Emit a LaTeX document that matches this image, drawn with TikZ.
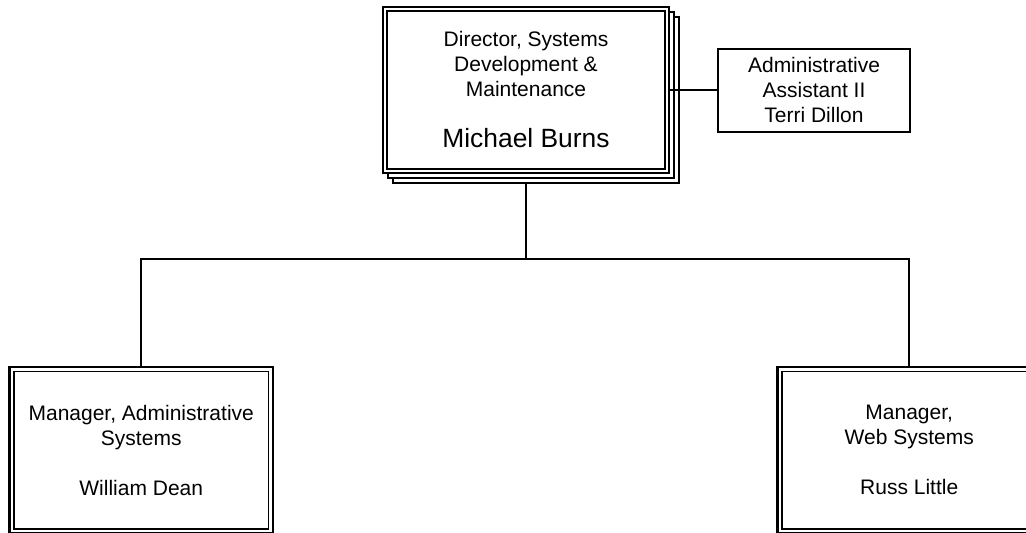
\documentclass[tikz,border=0pt]{standalone}
\usepackage{fontspec}
\setmainfont{Liberation Sans}
\usetikzlibrary{backgrounds}
\begin{document}
\begin{tikzpicture}[x=1pt,y=-1pt,
  txt/.style={font=\fontsize{21}{25}\selectfont, align=center},
  dblbox/.style={draw, line width=2.6pt, fill=white, inner sep=0pt, outer sep=0pt, txt},
  mgrbox/.style={dblbox, minimum width=263.5pt, minimum height=166.5pt},
  topbox/.style={dblbox, minimum width=286pt, minimum height=166pt},
  innerline/.style={line width=1.2pt},
  shadowline/.style={line width=1.8pt, fill=white},
  conn/.style={line width=2pt},
  asstbox/.style={draw, line width=2pt, fill=white, txt, inner sep=0pt, outer sep=0pt, minimum width=192pt, minimum height=83pt}]
\useasboundingbox (0,0) rectangle (1026,533);

\node[topbox] (dir) at (526,90) {Director, Systems\\Development \&\\Maintenance\\[26pt]{\fontsize{26.4}{30}\selectfont Michael Burns}};
\draw[innerline] ([shift={(4pt,-4pt)}]dir.north west) rectangle ([shift={(-4pt,4pt)}]dir.south east);

\node[asstbox] (adm) at (814,90) {Administrative\\Assistant II\\Terri Dillon};

\node[mgrbox] (mgrA) at (141.25,450.25) {Manager, Administrative\\Systems\\[25pt]William Dean};
\draw[innerline] ([shift={(4.5pt,-4.5pt)}]mgrA.north west) rectangle ([shift={(-4.5pt,4.5pt)}]mgrA.south east);

\node[mgrbox] (mgrW) at (909.25,450.25) {Manager,\\Web Systems\\[25pt]Russ Little};
\draw[innerline] ([shift={(4.5pt,-4.5pt)}]mgrW.north west) rectangle ([shift={(-4.5pt,4.5pt)}]mgrW.south east);

\coordinate (busy) at (0,259);
\coordinate (bus) at (dir.south |- busy);

\begin{scope}[on background layer]
  \draw[conn] (dir.south) -- (bus);
  \draw[conn] (bus) -| (mgrA.north);
  \draw[conn] (bus) -| (mgrW.north);
  \draw[shadowline] ([shift={(10pt,-10pt)}]dir.north west) rectangle ([shift={(10pt,-10pt)}]dir.south east);
  \draw[shadowline] ([shift={(5pt,-5pt)}]dir.north west) rectangle ([shift={(5pt,-5pt)}]dir.south east);
\end{scope}

\draw[conn] (dir.east) -- (adm.west);
\end{tikzpicture}
\end{document}
